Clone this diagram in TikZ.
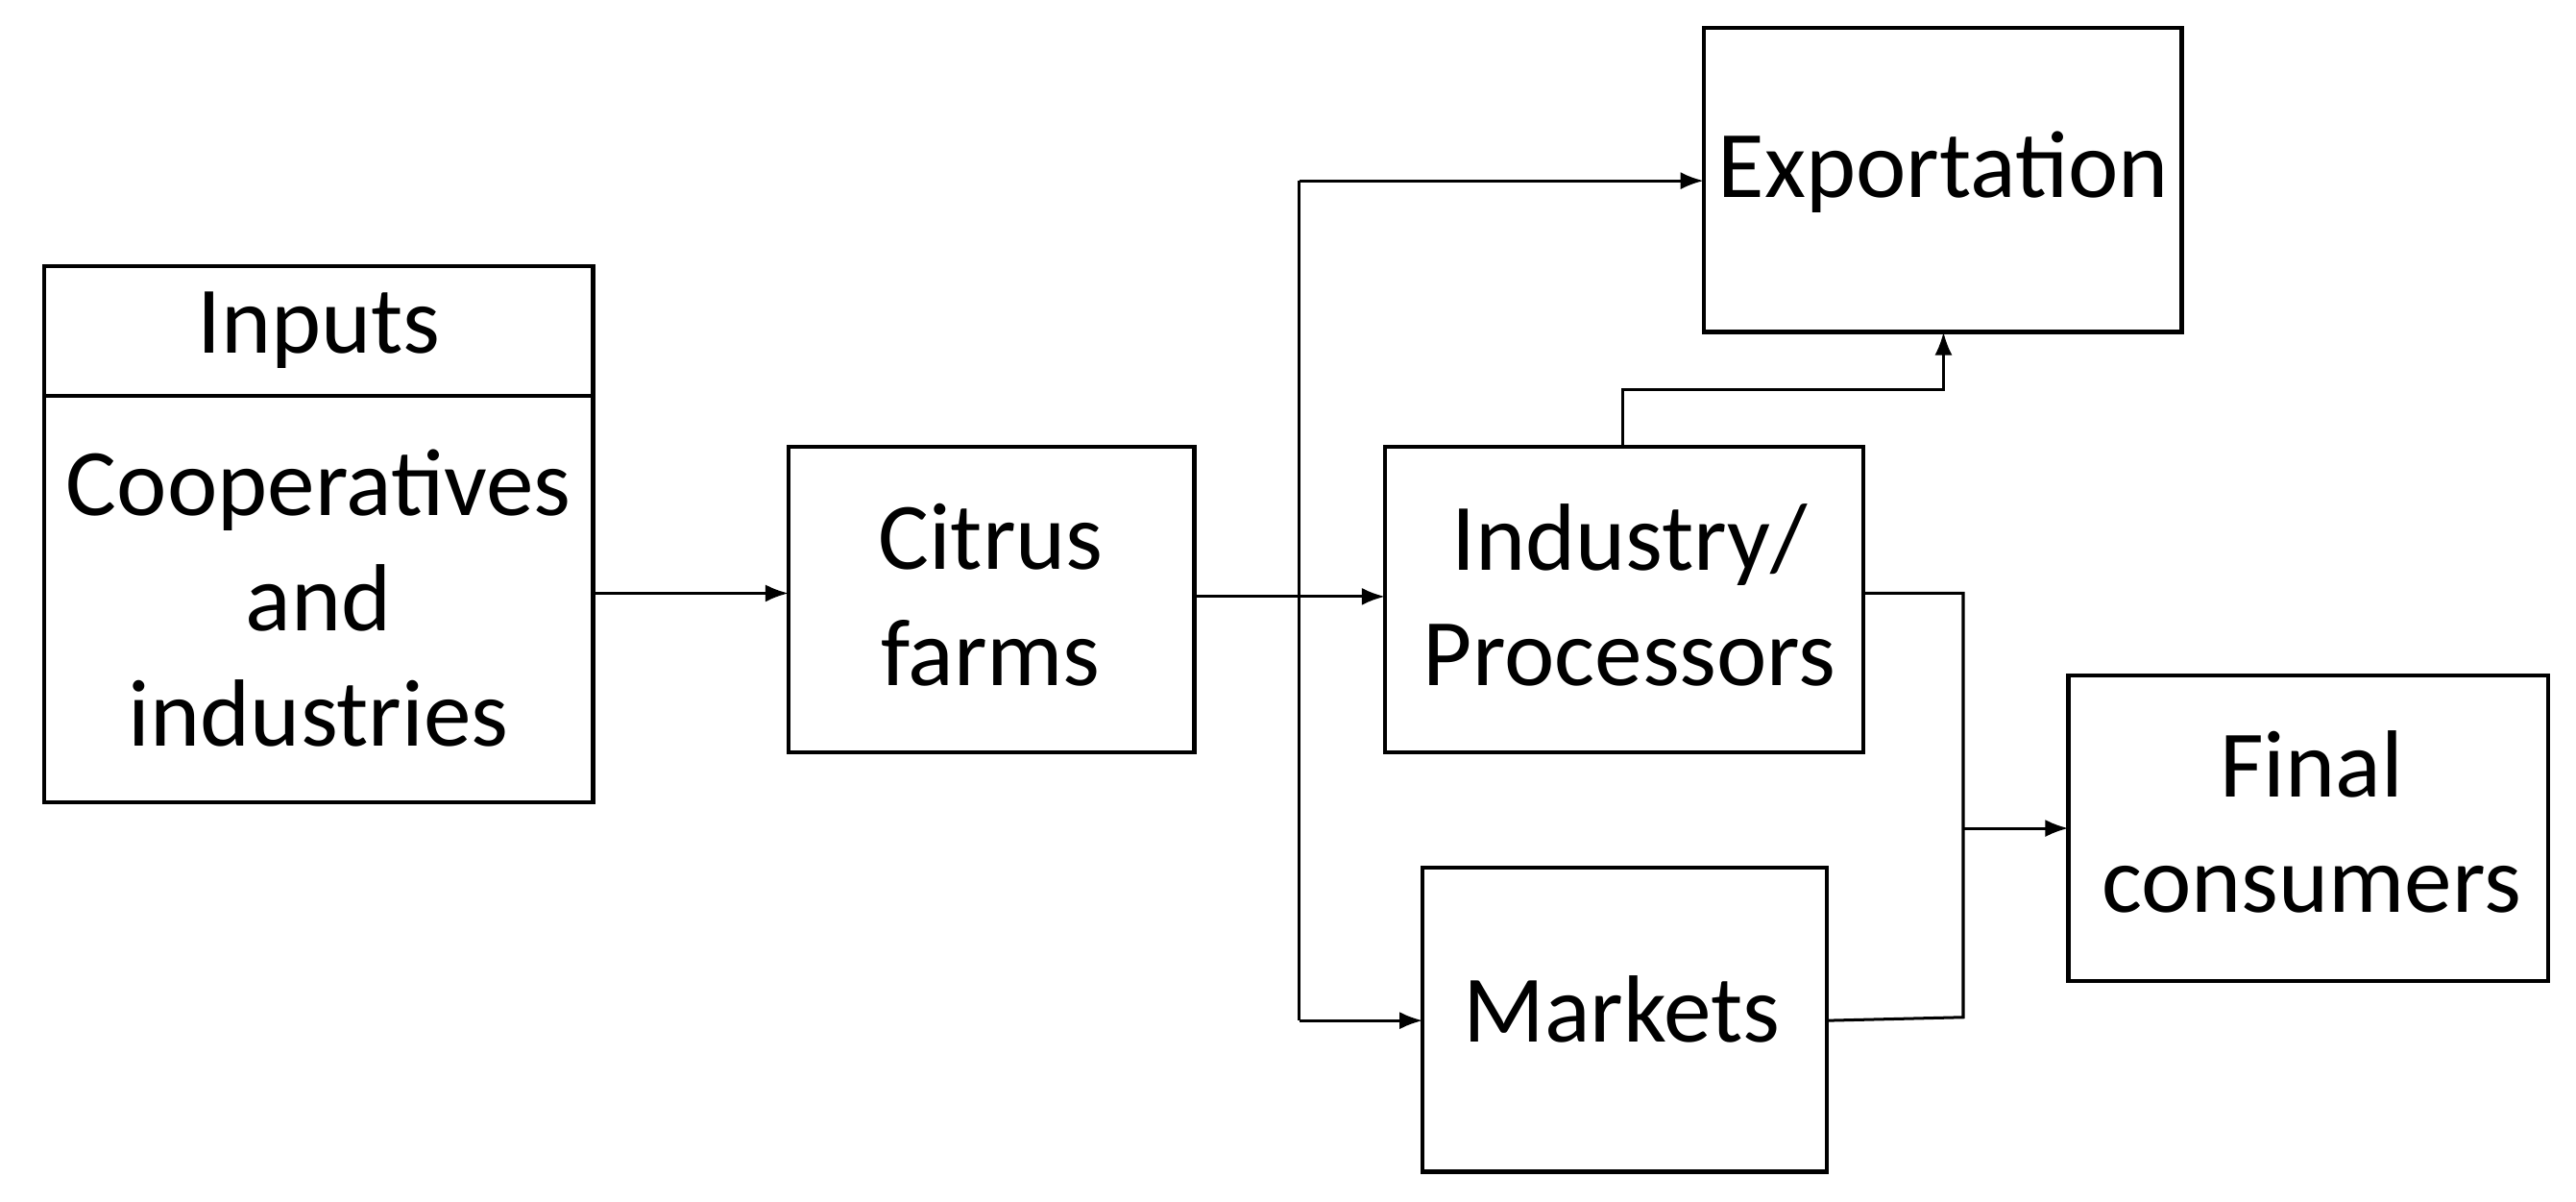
\documentclass[tikz,border=0pt]{standalone}
\usepackage{fontspec}
\setmainfont{Carlito}
\usetikzlibrary{arrows.meta}
\begin{document}
\begin{tikzpicture}[x=0.01cm,y=-0.01cm,
  box/.style={draw,line width=0.7pt,inner sep=0pt},
  lbl/.style={font=\fontsize{16.5}{20}\selectfont,align=center},
  conn/.style={line width=0.5pt},
  arr/.style={conn,-{Latex[length=4pt,width=3pt]}}]
\useasboundingbox (0,0) rectangle (1568,731);
\draw[box] (27,162) rectangle (361,241);
\draw[box] (27,241) rectangle (361,488);
\node[lbl] (inh) at (194,201) {Inputs};
\node[lbl] (in) at (194,364) {Cooperatives\\and\\industries};
\coordinate (inR) at (361,361);
\draw[box] (480,272) rectangle (727,458);
\node[lbl] (cf) at (603,362) {Citrus\\farms};
\draw[box] (843,272) rectangle (1134,458);
\node[lbl] (ind) at (992,362) {Industry/\\Processors};
\draw[box] (866,528) rectangle (1112,713);
\node[lbl] (mk) at (987,614) {Markets};
\draw[box] (1037,17) rectangle (1328,202);
\node[lbl] (ex) at (1183,105) {Exportation};
\draw[box] (1259,411) rectangle (1551,597);
\node[lbl] (fc) at (1407,500) {Final\\consumers};
\coordinate (a) at (791,110);
\coordinate (b) at (791,621);
\coordinate (j) at (1195,504);
\draw[arr] (inR) -- (480,361);
\draw[arr] (727,363) -- (843,363);
\draw[conn] (a) -- (b);
\draw[arr] (a) -- (1037,110);
\draw[arr] (b) -- (866,621);
\draw[arr] (988,272) -- (988,237) -- (1183,237) -- (1183,202);
\draw[conn] (1134,361) -- (1195,361) -- (1195,619) -- (1112,621);
\draw[arr] (j) -- (1259,504);
\end{tikzpicture}
\end{document}
